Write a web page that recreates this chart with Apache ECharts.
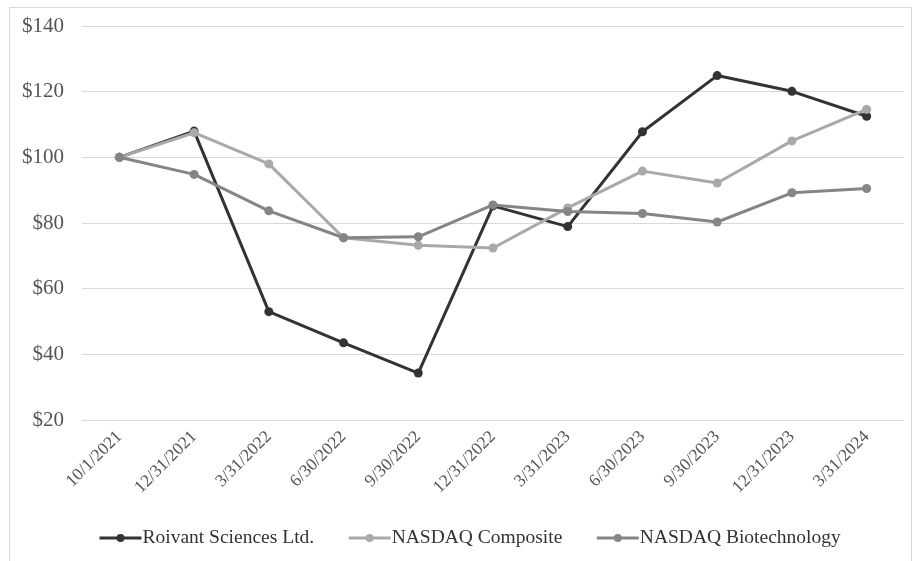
<!DOCTYPE html>
<html><head><meta charset="utf-8">
<script src="https://cdn.jsdelivr.net/npm/echarts@6/dist/echarts.min.js"></script>
<style>html,body{margin:0;padding:0;background:#fff}#c{width:915px;height:561px}</style>
</head><body><div id="c"></div>
<script>
const categories = ['10/1/2021','12/31/2021','3/31/2022','6/30/2022','9/30/2022','12/31/2022','3/31/2023','6/30/2023','9/30/2023','12/31/2023','3/31/2024'];
const roivant = [100, 108, 53, 43.5, 34.3, 85.2, 78.9, 107.8, 124.9, 120.1, 112.5];
const nasdaqComposite = [100, 107.5, 98, 75.5, 73.2, 72.4, 84.6, 95.8, 92.2, 105, 114.6];
const nasdaqBiotech = [100, 94.8, 83.7, 75.5, 75.8, 85.5, 83.5, 82.9, 80.3, 89.2, 90.5];
const seriesNames = ['Roivant Sciences Ltd.', 'NASDAQ Composite', 'NASDAQ Biotechnology'];
const yTicks = [20, 40, 60, 80, 100, 120, 140];

const colors = ['#333333', '#a9a9a9', '#858585'];
const font = '"Liberation Serif", "DejaVu Serif", serif';
const chart = echarts.init(document.getElementById('c'));
const mk = (name, data, i) => ({
  name, type: 'line', data, symbol: 'circle', symbolSize: 9,
  lineStyle: { width: 3, color: colors[i] },
  itemStyle: { color: colors[i] },
  z: 2 + i
});
chart.setOption({
  animation: false,
  backgroundColor: '#fff',
  color: colors,
  graphic: [{ type: 'rect', shape: { x: 9.5, y: 7.5, width: 902, height: 560 }, style: { fill: 'none', stroke: '#d9d9d9', lineWidth: 1 }, silent: true }],
  grid: { left: 82, right: 11, top: 26, bottom: 141, containLabel: false },
  legend: {
    top: 523, left: 93, itemWidth: 42, itemHeight: 10, itemGap: 33,
    lineStyle: { width: 3 },
    textStyle: { fontFamily: font, fontSize: 19.5, color: '#333', padding: [0, 0, 0, -4] },
    data: seriesNames
  },
  xAxis: {
    type: 'category', data: categories, boundaryGap: true,
    axisLine: { show: true, lineStyle: { color: '#d9d9d9' } },
    axisTick: { show: false },
    axisLabel: { rotate: 45, fontFamily: font, fontSize: 17.5, color: '#555', margin: 14, interval: 0 }
  },
  yAxis: {
    type: 'value', min: 20, max: 140, interval: 20,
    axisLine: { show: false }, axisTick: { show: false },
    axisLabel: { fontFamily: font, fontSize: 21, color: '#555', margin: 18, formatter: v => yTicks.includes(v) ? '$' + v : '' },
    splitLine: { lineStyle: { color: '#d9d9d9', width: 1 } }
  },
  series: [mk(seriesNames[0], roivant, 0), mk(seriesNames[1], nasdaqComposite, 1), mk(seriesNames[2], nasdaqBiotech, 2)]
});
</script></body></html>
